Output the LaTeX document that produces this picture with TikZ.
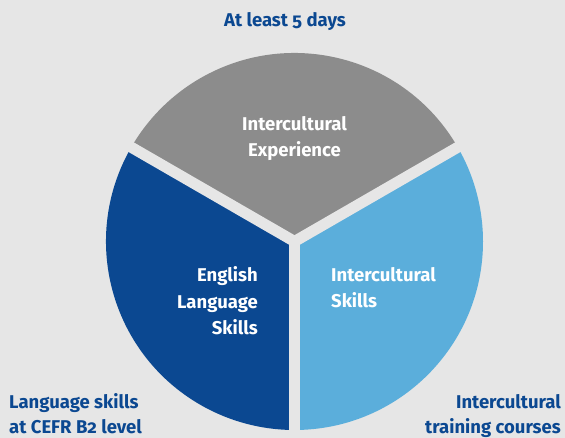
\documentclass[tikz,border=0pt]{standalone}
\usepackage{fontspec}
\setmainfont{Fira Sans}[Numbers=OldStyle]
\usetikzlibrary{positioning}
\definecolor{bggray}{HTML}{E6E6E6}
\definecolor{midgray}{HTML}{8C8C8C}
\definecolor{darkblue}{HTML}{0B4891}
\definecolor{lightblue}{HTML}{5BAEDB}
\tikzset{segtext/.style={text=white, font=\bfseries\fontsize{18.5}{26.5}\selectfont, inner sep=0pt, anchor=base},
         captext/.style={text=darkblue, font=\bfseries\fontsize{18.5}{25.5}\selectfont, inner sep=0pt, anchor=base},
         gap/.style={draw=bggray, line width=11pt},
        }

\begin{document}
\begin{tikzpicture}[x=1pt,y=1pt]
        \fill[bggray](0,0)rectangle(565,438);
        \useasboundingbox(0,0)rectangle(565,438);
        \coordinate(c)at(294.5,196.5);

        \fill[midgray](c)--++(30:188.5)arc[start angle=30, end angle=150, radius=188.5]--cycle;
        \fill[darkblue](c)--++(150:188.5)arc[start angle=150, end angle=270, radius=188.5]--cycle;
        \fill[lightblue](c)--++(270:188.5)arc[start angle=270, end angle=390, radius=188.5]--cycle;
        \draw[gap](c)--++(30:195);
        \draw[gap](c)--++(150:195);
        \draw[gap](c)--++(270:195);

        \node[segtext, align=center](exp)at(294.5,281){Intercultural\\Experience};
        \node[segtext, align=right, anchor=base east](eng)at(258,103){English\\Language\\Skills};
        \node[segtext, align=left, anchor=base west](ics)at(331,130){Intercultural\\Skills};

        \node[captext](days)at(285,411){At least 5 days};
        \node[captext, align=left, anchor=base west](lang)at(9,4){Language skills\\at CEFR B2 level};
        \node[captext, align=right, anchor=base east](train)at(561,4){Intercultural\\training courses};
    \end{tikzpicture}
\end{document}
